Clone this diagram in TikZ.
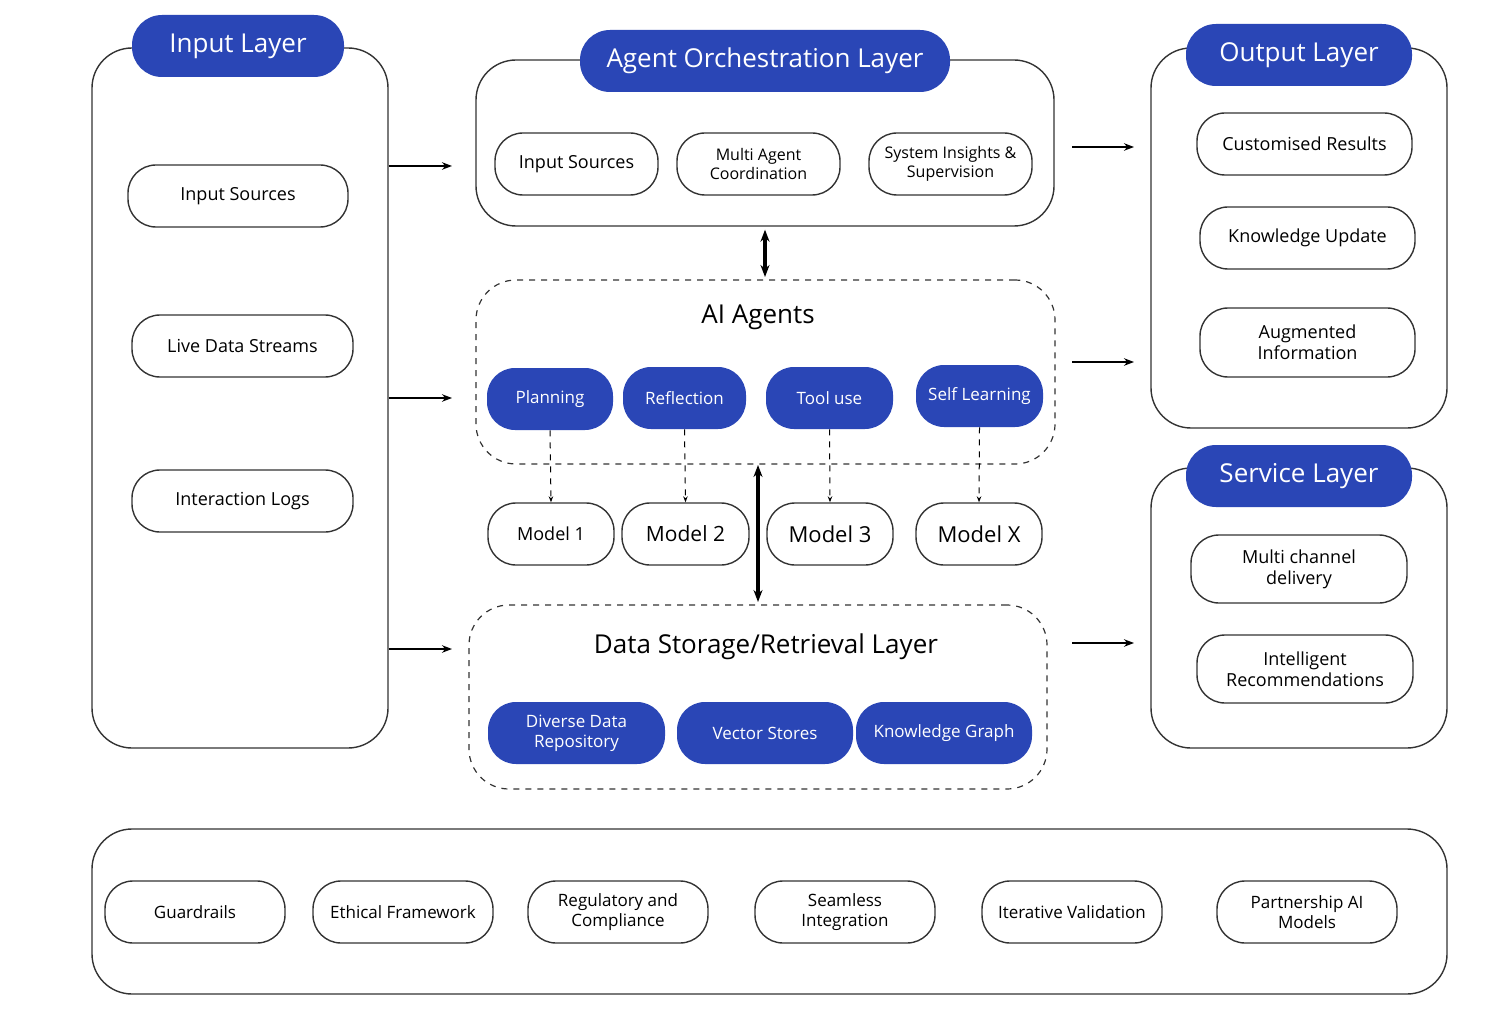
\documentclass[tikz,border=0pt]{standalone}
\usepackage{fontspec}
\setmainfont{Open Sans}
\usetikzlibrary{arrows.meta}
\definecolor{blu}{HTML}{2A46B6}
\newcommand{\bx}[7]{\node[#1, minimum width={(#4-#2)*0.5pt}, minimum height={(#5-#3)*0.5pt}] (#6) at ({(#2+#4)/2},{(#3+#5)/2}) {#7};}
\begin{document}
\begin{tikzpicture}[x=0.5pt,y=-0.5pt,
 every node/.style={inner sep=0pt,align=center},
 pill/.style={draw=black!80,line width=0.7pt,rounded corners=14pt,fill=white,font=\fontsize{9}{10.5}\selectfont},
 bpill/.style={fill=blu,text=white,rounded corners=14pt,font=\fontsize{8.5}{10}\selectfont},
 title/.style={fill=blu,text=white,rounded corners=15pt,font=\fontsize{13}{15}\selectfont},
 layer/.style={draw=black!80,line width=0.7pt,rounded corners=20pt},
 dlayer/.style={draw=black!80,line width=0.6pt,dashed,rounded corners=20pt},
 arr/.style={-{Stealth[length=5pt]},line width=0.8pt},
 darr/.style={{Stealth[length=6pt]}-{Stealth[length=6pt]},line width=2pt},
 dsh/.style={-{Stealth[length=3pt]},dashed,line width=0.5pt}]
\useasboundingbox (0,0) rectangle (1492,1010);
\fill[white] (0,0) rectangle (1492,1010);
% input layer
\bx{layer}{92}{48}{388}{748}{inL}{}
\bx{title}{132}{15}{344}{77}{inT}{Input Layer}
\bx{pill}{128}{165}{348}{227}{in1}{Input Sources}
\bx{pill}{132}{315}{353}{377}{in2}{Live Data Streams}
\bx{pill}{132}{470}{353}{532}{in3}{Interaction Logs}
% orchestration
\bx{layer}{476}{60}{1054}{226}{orL}{}
\bx{title}{580}{30}{950}{92}{orT}{Agent Orchestration Layer}
\bx{pill}{495}{133}{658}{195}{or1}{Input Sources}
\bx{pill,font=\fontsize{8}{9.5}\selectfont}{677}{133}{840}{195}{or2}{Multi Agent\\Coordination}
\bx{pill,font=\fontsize{8}{9.5}\selectfont}{869}{133}{1032}{195}{or3}{System Insights \&\\Supervision}
% AI agents
\bx{dlayer}{476}{280}{1055}{464}{agL}{}
\node[font=\fontsize{13}{15}\selectfont] (agT) at (758,317) {AI Agents};
\bx{bpill}{487}{368}{613}{430}{p1}{Planning}
\bx{bpill}{623}{367}{746}{429}{p2}{Reflection}
\bx{bpill}{766}{367}{893}{429}{p3}{Tool use}
\bx{bpill}{916}{365}{1043}{427}{p4}{Self Learning}
\bx{pill,font=\fontsize{9}{10.5}\selectfont}{488}{503}{614}{565}{m1}{Model 1}
\bx{pill,font=\fontsize{10.5}{12}\selectfont}{622}{503}{749}{565}{m2}{Model 2}
\bx{pill,font=\fontsize{11}{12}\selectfont}{767}{503}{893}{565}{m3}{Model 3}
\bx{pill,font=\fontsize{11}{12}\selectfont}{916}{503}{1042}{565}{m4}{Model X}
\draw[dsh] (p1.south) -- (m1.north);
\draw[dsh] (p2.south) -- (m2.north);
\draw[dsh] (p3.south) -- (m3.north);
\draw[dsh] (p4.south) -- (m4.north);
% data storage
\bx{dlayer}{469}{605}{1047}{789}{dsL}{}
\node[font=\fontsize{13}{15}\selectfont] (dsT) at (766,647) {Data Storage/Retrieval Layer};
\bx{bpill}{488}{702}{665}{764}{d1}{Diverse Data\\Repository}
\bx{bpill}{677}{702}{853}{764}{d2}{Vector Stores}
\bx{bpill}{856}{702}{1032}{764}{d3}{Knowledge Graph}
% vertical double arrows
\draw[darr] (orL.south -| 765,0) ++(0,3) -- (765,277);
\draw[darr] (758,465) -- (758,602);
% output
\bx{layer}{1151}{48}{1447}{428}{ouL}{}
\bx{title}{1186}{24}{1412}{86}{ouT}{Output Layer}
\bx{pill}{1197}{113}{1412}{175}{o1}{Customised Results}
\bx{pill}{1200}{207}{1415}{269}{o2}{Knowledge Update}
\bx{pill}{1200}{308}{1415}{377}{o3}{Augmented\\Information}
% service
\bx{layer}{1151}{468}{1447}{748}{svL}{}
\bx{title}{1186}{445}{1412}{507}{svT}{Service Layer}
\bx{pill}{1191}{535}{1407}{603}{s1}{Multi channel\\delivery}
\bx{pill}{1197}{635}{1413}{703}{s2}{Intelligent\\Recommendations}
% bottom
\bx{layer}{92}{829}{1447}{994}{btL}{}
\bx{pill,font=\fontsize{8.5}{10}\selectfont}{105}{881}{285}{943}{b1}{Guardrails}
\bx{pill,font=\fontsize{8.5}{10}\selectfont}{313}{881}{493}{943}{b2}{Ethical Framework}
\bx{pill,font=\fontsize{8.5}{10}\selectfont}{528}{881}{708}{943}{b3}{Regulatory and\\Compliance}
\bx{pill,font=\fontsize{8.5}{10}\selectfont}{755}{881}{935}{943}{b4}{Seamless\\Integration}
\bx{pill,font=\fontsize{8.5}{10}\selectfont}{982}{881}{1162}{943}{b5}{Iterative Validation}
\bx{pill,font=\fontsize{8.5}{10}\selectfont}{1217}{881}{1397}{943}{b6}{Partnership AI\\Models}
% horizontal arrows
\coordinate (a1) at (452,166); \coordinate (a2) at (452,398); \coordinate (a3) at (452,649);
\draw[arr] (inL.east |- a1) -- (a1);
\draw[arr] (inL.east |- a2) -- (a2);
\draw[arr] (inL.east |- a3) -- (a3);
\coordinate (c1) at (1072,147); \coordinate (c2) at (1072,362); \coordinate (c3) at (1072,643);
\coordinate (e1) at (1134,147); \coordinate (e2) at (1134,362); \coordinate (e3) at (1134,643);
\draw[arr] (c1) -- (e1);
\draw[arr] (c2) -- (e2);
\draw[arr] (c3) -- (e3);
\end{tikzpicture}
\end{document}
